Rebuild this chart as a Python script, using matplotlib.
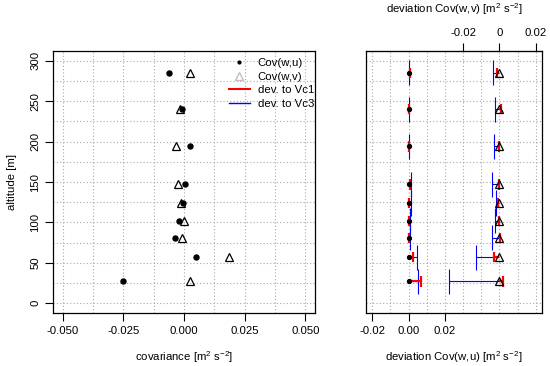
import matplotlib
matplotlib.use('Agg')
import matplotlib.pyplot as plt
from matplotlib.lines import Line2D
import numpy as np

plt.rcParams['font.family'] = ['Liberation Sans', 'DejaVu Sans']
plt.rcParams['mathtext.fontset'] = 'custom'
plt.rcParams['mathtext.rm'] = 'Liberation Sans'
plt.rcParams['mathtext.it'] = 'Liberation Sans'
plt.rcParams['font.size'] = 8.2

# altitudes of the measuring levels [m]
altitude = [285, 240, 194, 147, 124, 102, 81, 57, 27]

# covariances [m2 s-2]
cov_wu = [-0.0063, -0.0007, 0.0023, 0.0005, -0.0003, -0.0021, -0.0038, 0.0050, -0.0251]
cov_wv = [0.0025, -0.0018, -0.0032, -0.0025, -0.0014, 0.0002, -0.0010, 0.0187, 0.0025]

# deviations to Vc1 / Vc3
dev_wu_vc1 = [0.0007, 0.0002, 0.0002, 0.0006, 0.0000, 0.0004, 0.0004, 0.0026, 0.0070]
dev_wu_vc3 = [0.0005, 0.0000, 0.0004, 0.0014, 0.0014, 0.0007, 0.0007, 0.0046, 0.0051]
dev_wv_vc1 = [-0.0013, 0.0008, 0.0000, 0.0000, -0.0006, -0.0004, 0.0004, -0.0031, 0.0019]
dev_wv_vc3 = [-0.0033, -0.0026, -0.0028, -0.0039, -0.0018, -0.0022, -0.0042, -0.0127, -0.0276]

# offset of the Cov(w,v) block on the right panel
v_offset = 0.05

grid_kw = dict(color='#a8a8a8', linestyle=(0, (1, 2)), linewidth=0.8, zorder=0)

fig = plt.figure(figsize=(5.5, 3.66), dpi=100)
ax1 = fig.add_axes([53/550, 1 - 313/366, 262/550, 262/366])
ax2 = fig.add_axes([365.7/550, 1 - 313/366, 176.6/550, 262/366])

# ---- left panel
for gx in np.arange(-0.05, 0.0501, 0.0125):
    ax1.axvline(gx, **grid_kw)
for gy in range(0, 301, 25):
    ax1.axhline(gy, **grid_kw)
ax1.plot(cov_wu, altitude, 'o', color='black', markersize=3.6, linestyle='none', zorder=3)
ax1.plot(cov_wv, altitude, '^', markerfacecolor='none', markeredgecolor='black',
         markersize=5.5, markeredgewidth=0.9, linestyle='none', zorder=3)
ax1.set_xlim(-0.054, 0.054)
ax1.set_ylim(-12, 312)
ax1.set_xticks([-0.05, -0.025, 0, 0.025, 0.05])
ax1.set_xticklabels(['-0.050', '-0.025', '0.000', '0.025', '0.050'])
ax1.set_yticks(range(0, 301, 50))
ax1.set_yticklabels([str(v) for v in range(0, 301, 50)], rotation=90, va='center')
ax1.set_xlabel(r'covariance [m$^2$ s$^{-2}$]', labelpad=10)
ax1.set_ylabel('altitude [m]', labelpad=10)

handles = [Line2D([], [], marker='.', color='black', markersize=4, linestyle='none'),
           Line2D([], [], marker='^', markerfacecolor='none', markeredgecolor='#c0c0c0',
                  markersize=5.5, linestyle='none'),
           Line2D([], [], color='red', linewidth=1.5),
           Line2D([], [], color='blue', linewidth=1)]
ax1.legend(handles, ['Cov(w,u)', 'Cov(w,v)', 'dev. to Vc1', 'dev. to Vc3'],
           loc='upper left', bbox_to_anchor=(0.672, 0.972), frameon=False,
           borderpad=0, borderaxespad=0, handlelength=1.8, handletextpad=0.7,
           labelspacing=0.3)

# ---- right panel
for gx in np.arange(-0.02, 0.0701, 0.01):
    ax2.axvline(gx, **grid_kw)
for gy in range(0, 301, 25):
    ax2.axhline(gy, **grid_kw)


def dev_bars(ax, base, dev, alt, color, lw, cap):
    for b, d, a in zip(base, dev, alt):
        ax.plot([b, b + d], [a, a], color=color, linewidth=lw, zorder=2, solid_capstyle='butt')
        ax.plot([b + d, b + d], [a - cap, a + cap], color=color, linewidth=lw, zorder=2,
                solid_capstyle='butt')


zero = [0.0] * len(altitude)
vbase = [v_offset] * len(altitude)
dev_bars(ax2, zero, dev_wu_vc3, altitude, 'blue', 0.8, 15.5)
dev_bars(ax2, vbase, dev_wv_vc3, altitude, 'blue', 0.8, 15.5)
dev_bars(ax2, zero, dev_wu_vc1, altitude, 'red', 1.6, 6.5)
dev_bars(ax2, vbase, dev_wv_vc1, altitude, 'red', 1.6, 6.5)
ax2.plot(zero, altitude, 'o', color='black', markersize=2.8, linestyle='none', zorder=3)
ax2.plot(vbase, altitude, '^', markerfacecolor='none', markeredgecolor='black',
         markersize=5.5, markeredgewidth=0.9, linestyle='none', zorder=3)
ax2.set_xlim(-0.0236, 0.0736)
ax2.set_ylim(-12, 312)
ax2.set_yticks([])
ax2.set_xticks([-0.02, 0, 0.02])
ax2.set_xticklabels(['-0.02', '0.00', '0.02'])
ax2.set_xlabel(r'deviation Cov(w,u) [m$^2$ s$^{-2}$]', labelpad=10)

top = ax2.secondary_xaxis('top', functions=(lambda x: x - v_offset, lambda x: x + v_offset))
top.set_xticks([-0.02, 0, 0.02])
top.set_xticklabels(['-0.02', '0', '0.02'])
top.tick_params(length=6, width=0.8, pad=3)
top.set_xlabel(r'deviation Cov(w,v) [m$^2$ s$^{-2}$]', labelpad=11)

for ax in (ax1, ax2):
    ax.tick_params(length=6, width=0.8, pad=3)
    for s in ax.spines.values():
        s.set_linewidth(0.9)

fig.savefig('out.png', dpi=100)
